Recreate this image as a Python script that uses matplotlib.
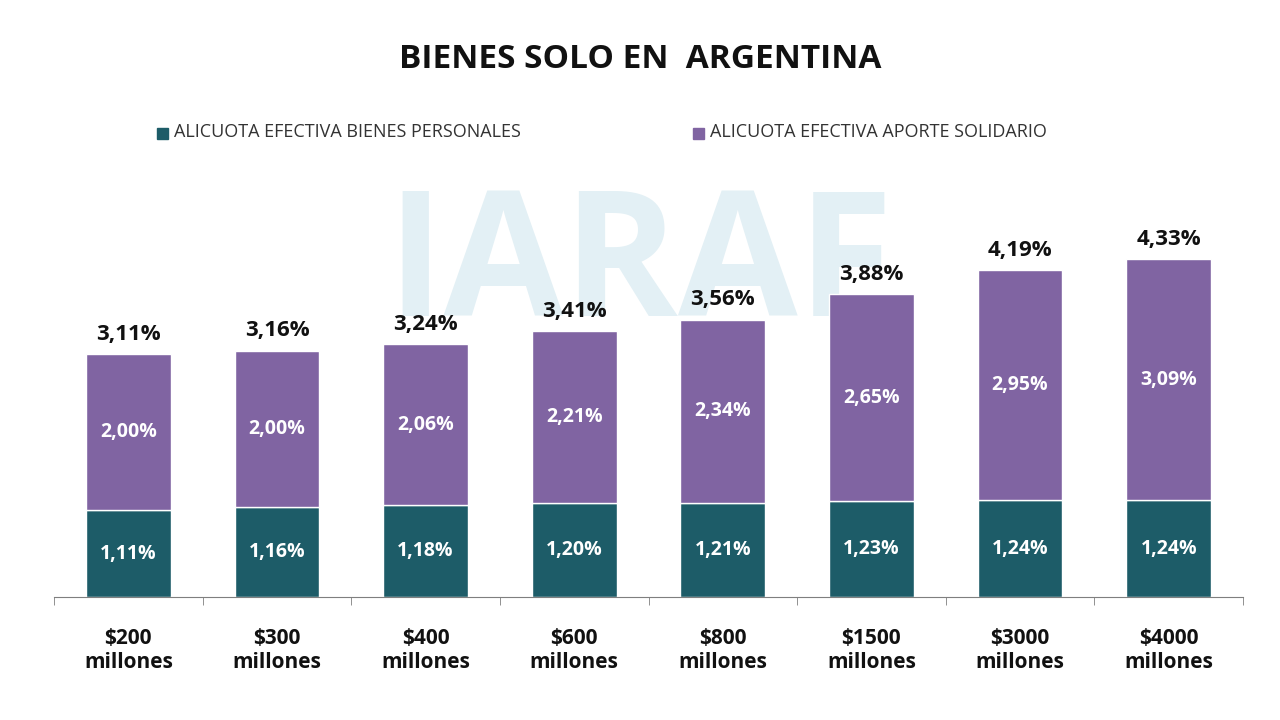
import matplotlib.pyplot as plt
import numpy as np

categories = ['$200\nmillones', '$300\nmillones', '$400\nmillones', '$600\nmillones',
              '$800\nmillones', '$1500\nmillones', '$3000\nmillones', '$4000\nmillones']
bienes = [1.11, 1.16, 1.18, 1.20, 1.21, 1.23, 1.24, 1.24]
aporte = [2.00, 2.00, 2.06, 2.21, 2.34, 2.65, 2.95, 3.09]
totales = [3.11, 3.16, 3.24, 3.41, 3.56, 3.88, 4.19, 4.33]

TEAL = '#1d5c68'
PURPLE = '#8064a2'

def pct(v):
    return f'{v:.2f}%'.replace('.', ',')

plt.rcParams['font.family'] = ['Open Sans', 'DejaVu Sans']
fig = plt.figure(figsize=(12.8, 7.2), dpi=100)
ax = fig.add_axes([54 / 1280, 123 / 720, 1189 / 1280, 390 / 720])

# watermark, behind the axes
fig.text(0.5, 0.625, 'IARAF', ha='center', va='center', fontsize=125, fontweight='bold',
         color='#e3f0f5', zorder=-1)

x = np.arange(len(categories))
w = 0.57
ax.bar(x, bienes, w, color=TEAL, edgecolor='white', linewidth=1, zorder=2)
ax.bar(x, aporte, w, bottom=bienes, color=PURPLE, edgecolor='white', linewidth=1, zorder=2)

for i in x:
    ax.text(i, bienes[i] / 2, pct(bienes[i]), ha='center', va='center', color='white',
            fontsize=14, fontweight='bold')
    ax.text(i, bienes[i] + aporte[i] / 2, pct(aporte[i]), ha='center', va='center',
            color='white', fontsize=14, fontweight='bold')
    ax.text(i, totales[i] + 0.12, pct(totales[i]), ha='center', va='bottom', color='#111111',
            fontsize=16, fontweight='bold')

ax.set_xlim(-0.5, len(categories) - 0.5)
ax.set_ylim(0, 5)
ax.patch.set_alpha(0)
for s in ['top', 'right', 'left']:
    ax.spines[s].set_visible(False)
ax.spines['bottom'].set_color('#7f7f7f')
ax.set_yticks([])
ax.set_xticks(x)
ax.set_xticklabels(categories, fontsize=15, fontweight='bold', color='#111111')
ax.tick_params(axis='x', length=0, pad=22)
ax.set_xticks(np.arange(-0.5, len(categories)), minor=True)
ax.tick_params(axis='x', which='minor', length=6, color='#7f7f7f')

fig.text(0.5, 0.918, 'BIENES SOLO EN  ARGENTINA', ha='center', va='center', fontsize=24,
         fontweight='bold', color='#111111')

# legend
fig.patches.append(plt.Rectangle((157 / 1280, 1 - 139 / 720), 11 / 1280, 11 / 720,
                                 transform=fig.transFigure, color=TEAL, figure=fig))
fig.text(174 / 1280, 1 - 132 / 720, 'ALICUOTA EFECTIVA BIENES PERSONALES', va='center',
         fontsize=13, color='#333333')
fig.patches.append(plt.Rectangle((693 / 1280, 1 - 139 / 720), 11 / 1280, 11 / 720,
                                 transform=fig.transFigure, color=PURPLE, figure=fig))
fig.text(710 / 1280, 1 - 132 / 720, 'ALICUOTA EFECTIVA APORTE SOLIDARIO', va='center',
         fontsize=13, color='#333333')

fig.savefig('out.png', dpi=100)
